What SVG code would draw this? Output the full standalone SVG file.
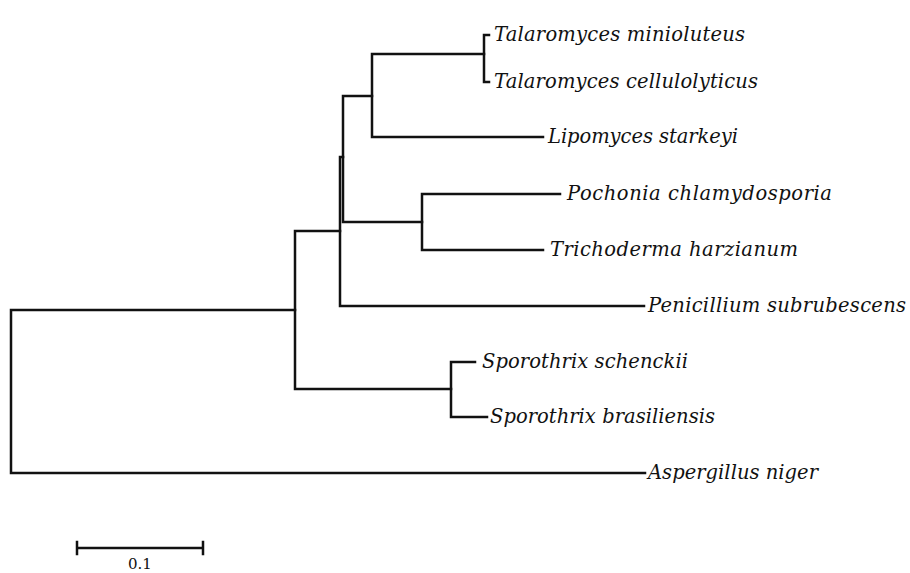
<svg xmlns="http://www.w3.org/2000/svg" width="910" height="573" viewBox="0 0 910 573">
<style>
.br{fill:none;stroke:#111;stroke-width:2.5;stroke-linecap:square;stroke-linejoin:miter}
.tx{font-family:"DejaVu Serif","Liberation Serif",serif;font-style:italic;font-size:19.5px;fill:#111}
.sc{font-family:"DejaVu Serif","Liberation Serif",serif;font-size:15px;fill:#111}
</style>
<rect width="910" height="573" fill="#fff"/>
<g id="connectors" class="br">
<path d="M11,310 V473 M11,310 H295 M11,473 H645"/>
<path d="M295,231 V389 M295,231 H340 M295,389 H451"/>
<path d="M451,362 V417 M451,362 H475 M451,417 H487"/>
<path d="M340,157 V306 M340,157 H343 M340,306 H644"/>
<path d="M343,96 V222 M343,96 H372 M343,222 H422"/>
<path d="M422,194 V250 M422,194 H560 M422,250 H543"/>
<path d="M372,54 V137 M372,54 H484 M372,137 H543"/>
<path d="M484,35 V82 M484,35 H489 M484,82 H489"/>
</g>
<g id="t-minioluteus"><text class="tx" x="494" y="41" textLength="251">Talaromyces minioluteus</text></g>
<g id="t-cellulolyticus"><text class="tx" x="494" y="88" textLength="264">Talaromyces cellulolyticus</text></g>
<g id="l-starkeyi"><text class="tx" x="548" y="143" textLength="190">Lipomyces starkeyi</text></g>
<g id="p-chlamydosporia"><text class="tx" x="567" y="200" textLength="265">Pochonia chlamydosporia</text></g>
<g id="t-harzianum"><text class="tx" x="550" y="256" textLength="248">Trichoderma harzianum</text></g>
<g id="p-subrubescens"><text class="tx" x="648" y="312" textLength="258">Penicillium subrubescens</text></g>
<g id="s-schenckii"><text class="tx" x="482" y="368" textLength="206">Sporothrix schenckii</text></g>
<g id="s-brasiliensis"><text class="tx" x="490" y="423" textLength="225">Sporothrix brasiliensis</text></g>
<g id="a-niger"><text class="tx" x="648" y="479" textLength="170">Aspergillus niger</text></g>
<g id="scale">
<path class="br" d="M77,548 H203 M77,542 V554 M203,542 V554"/>
<text class="sc" x="140" y="569" text-anchor="middle">0.1</text>
</g>
</svg>
